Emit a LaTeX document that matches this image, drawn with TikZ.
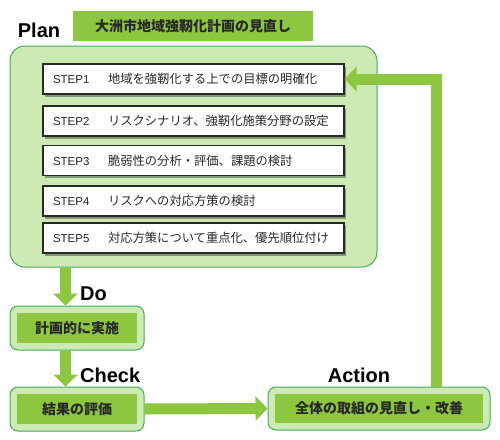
\documentclass[tikz,border=0pt]{standalone}
\usepackage{fontspec}
\setmainfont{Liberation Sans}
\newfontfamily\jp{Noto Sans CJK JP}
\usetikzlibrary{calc,positioning,arrows.meta,shadows}
\definecolor{leaf}{RGB}{141,198,63}
\definecolor{pale}{RGB}{205,233,180}
\definecolor{rim}{RGB}{64,172,92}
\definecolor{ink}{RGB}{40,40,40}

\begin{document}
\begin{tikzpicture}[x=1pt, y=-1pt,
    planbox/.style={draw=rim, line width=1pt, fill=pale, rounded corners=15pt,
      minimum width=367pt, minimum height=221pt},
    headbox/.style={fill=leaf, text=ink, minimum width=240pt, minimum height=30pt,
      font=\jp\bfseries\fontsize{14}{14}\selectfont},
    stepbox/.style={draw=ink, line width=1.1pt, fill=white, text=ink,
      minimum width=301pt, minimum height=30pt, text width=281pt, align=left,
      inner xsep=10pt, inner ysep=0pt,
      drop shadow={shadow xshift=2pt, shadow yshift=-2.5pt, fill=black, opacity=0.35},
      font=\fontsize{11.5}{12}\selectfont},
    outbox/.style={draw=rim, line width=1pt, fill=pale, rounded corners=8pt,
      minimum height=44pt},
    inbox/.style={fill=leaf, text=ink, minimum height=30pt,
      font=\jp\bfseries\fontsize{14}{14}\selectfont},
    phase/.style={inner sep=0pt, text=black, font=\bfseries\fontsize{20}{20}\selectfont},
    bigarrow/.style={leaf, line width=11pt, line join=miter,
      -{Triangle[width=24pt, length=12pt]}}
  ]
  \useasboundingbox (0,0) rectangle (500,439);
  \def\dx{65.5}
  \def\bx{436}
  \coordinate (downx) at (\dx,0);
  \coordinate (backx) at (\bx,0);

  \node[phase] (plantitle) at (39,30) {Plan};
  \node[headbox] (head) at (193,26) {大洲市地域強靭化計画の見直し};
  \node[planbox] (plan) at (193.5,156.5) {};
  \foreach \n/\y/\t in {
    1/79/地域を強靭化する上での目標の明確化,
    2/121/リスクシナリオ、強靭化施策分野の設定,
    3/160.5/脆弱性の分析・評価、課題の検討,
    4/201/リスクへの対応方策の検討,
    5/238/対応方策について重点化、優先順位付け
  }
  {
    \node[stepbox] (step\n) at (193.5,\y)
      {\makebox[55pt][l]{STEP\n}{\jp\fontsize{12.3}{13}\selectfont\t}};
  }

  \node[outbox, minimum width=134pt] (do) at (77,328) {};
  \node[inbox, minimum width=120pt] (doin) at (do) {計画的に実施};
  \node[outbox, minimum width=134pt] (chk) at (77,409) {};
  \node[inbox, minimum width=120pt] (chkin) at (chk) {結果の評価};
  \node[outbox, minimum width=222pt, minimum height=43pt] (act) at (379,408.5) {};
  \node[inbox, minimum width=208pt, minimum height=29pt] (actin) at (act)
    {全体の取組の見直し・改善};

  \node[phase, anchor=west] (dolabel) at (80,294) {Do};
  \node[phase, anchor=west] (chklabel) at (80,375) {Check};
  \node[phase] (actlabel) at (359,375) {Action};

  \draw[bigarrow] (plan.south -| downx) -- (do.north -| downx);
  \draw[bigarrow] (do.south -| downx) -- (chk.north -| downx);
  \draw[bigarrow] (chk.east) -- (act.west);
  \draw[bigarrow] (act.north -| backx) |- (step1.east);
\end{tikzpicture}
\end{document}
